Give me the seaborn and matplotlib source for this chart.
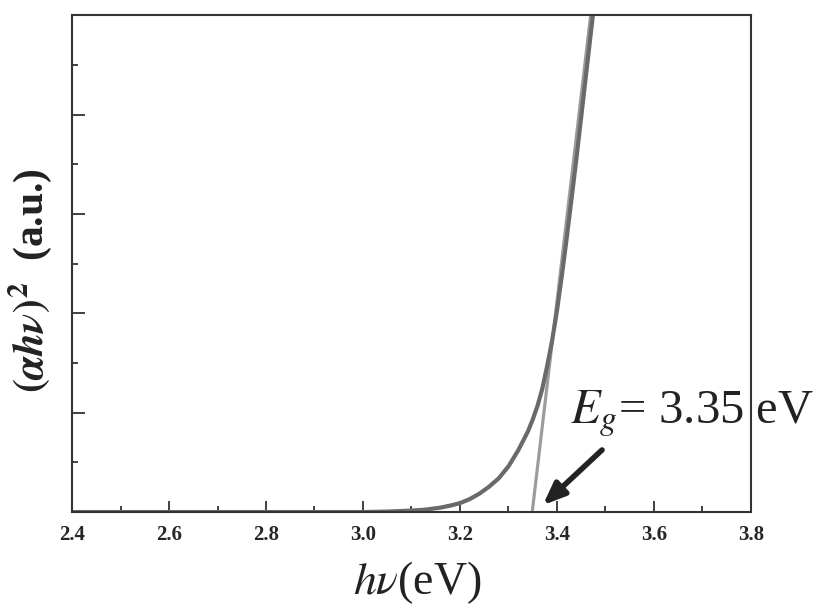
import matplotlib
matplotlib.use("Agg")
import matplotlib.pyplot as plt
from matplotlib.ticker import MultipleLocator, NullFormatter
import seaborn as sns
import pandas as pd

# photon energy (eV) and (alpha h nu)^2 in arbitrary units
energy = [2.40, 2.80, 3.00, 3.05, 3.10, 3.13, 3.16, 3.18, 3.20, 3.22, 3.24, 3.26,
          3.28, 3.30, 3.32, 3.34, 3.35, 3.36, 3.37, 3.38, 3.39, 3.40, 3.41, 3.42,
          3.43, 3.44, 3.45, 3.46, 3.47, 3.48, 3.50]
absorb = [0.00, 0.00, 0.00, 0.01, 0.03, 0.05, 0.09, 0.13, 0.18, 0.26, 0.37, 0.51,
          0.68, 0.92, 1.24, 1.62, 1.86, 2.14, 2.49, 2.95, 3.45, 4.05, 4.75, 5.50,
          6.30, 7.10, 7.95, 8.80, 9.65, 10.5, 12.2]

# linear extrapolation of the edge
fit_x = [3.349, 3.49]
fit_y = [0.0, 11.7]

eg_value = 3.35
x_ticks = [2.4, 2.6, 2.8, 3.0, 3.2, 3.4, 3.6, 3.8]

sns.set_theme(style="ticks")
plt.rcParams['font.family'] = ['Liberation Serif', 'DejaVu Serif']
plt.rcParams['mathtext.fontset'] = 'stix'

df = pd.DataFrame({"energy": energy, "absorb": absorb})
df_fit = pd.DataFrame({"energy": fit_x, "absorb": fit_y})

fig = plt.figure(figsize=(8.14, 6.06), dpi=100)
ax = fig.add_axes([0.0885, 0.155, 0.834, 0.82])

sns.lineplot(data=df_fit, x="energy", y="absorb", ax=ax, color="#9c9c9c", lw=2.3)
sns.lineplot(data=df, x="energy", y="absorb", ax=ax, color="#6a6a6a", lw=3.0)

ax.set_xlim(2.4, 3.8)
ax.set_ylim(0, 10)
ax.set_xticks(x_ticks)
ax.set_xticklabels([f"{t:.1f}" for t in x_ticks], fontweight='bold', fontsize=15)
ax.xaxis.set_minor_locator(MultipleLocator(0.1))
ax.yaxis.set_major_locator(MultipleLocator(2))
ax.yaxis.set_minor_locator(MultipleLocator(1))
ax.yaxis.set_major_formatter(NullFormatter())
ax.tick_params(which='major', direction='in', length=8, width=1.3, color='#333333', pad=9)
ax.tick_params(which='minor', direction='in', length=4, width=1.3, color='#333333')
ax.tick_params(axis='y', which='major', length=9)

for s in ax.spines.values():
    s.set_color('#333333')
    s.set_linewidth(1.5)

ax.set_xlabel(r'$h\nu$(eV)', fontsize=33, color='#222222')
ax.xaxis.set_label_coords(0.508, -0.095)
ax.set_ylabel(r'$\boldsymbol{(\alpha h\nu)}^{\mathbf{2}}$  (a.u.)', fontsize=30,
              fontweight='bold', color='#222222')
ax.yaxis.set_label_coords(-0.027, 0.465)

ax.annotate("", xy=(3.371, 0.14), xytext=(3.493, 1.25),
            arrowprops=dict(arrowstyle="-|>,head_length=1.1,head_width=0.45",
                            color='#222222', lw=4, shrinkA=0, shrinkB=0))
ax.text(3.427, 1.79, r'$E_g$' + f'= {eg_value:.2f} eV', fontsize=35, color='#222222',
        va='baseline', ha='left', clip_on=False)

fig.savefig("out.png", dpi=100, facecolor='white')
